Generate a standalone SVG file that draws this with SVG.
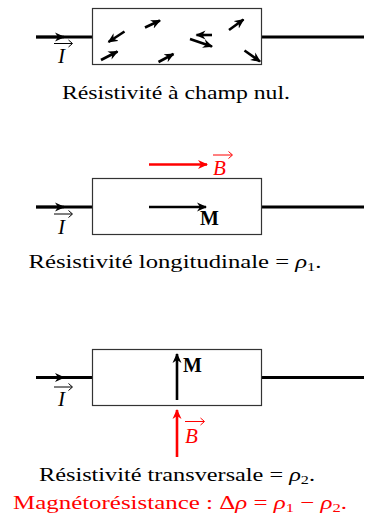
<svg xmlns="http://www.w3.org/2000/svg" width="366" height="519" viewBox="0 0 366 519">
<style>
.wire{stroke:#000;stroke-width:3;fill:none}
.box{fill:#fff;stroke:#333;stroke-width:1.2}
.arr{stroke:#000;stroke-width:2.6;fill:none;marker-end:url(#ah)}
.rarr{stroke:#f00;stroke-width:2.6;fill:none;marker-end:url(#rh)}
.vec{stroke-width:1;fill:none}
.t{font-family:'Liberation Serif','DejaVu Serif',serif;font-size:19.5px;fill:#000}
.lab{font-family:'Liberation Serif','DejaVu Serif',serif;font-size:21px;font-style:italic}
.m{font-family:'Liberation Serif','DejaVu Serif',serif;font-size:20px;font-weight:bold}
.red{fill:#f00}
</style>
<defs>
<marker id="ah" markerUnits="userSpaceOnUse" markerWidth="12" markerHeight="10" refX="9" refY="5" orient="auto" viewBox="0 0 12 10">
<path d="M0,0.5 L10,5 L0,9.5 L3,5 Z" fill="#000"/>
</marker>
<marker id="rh" markerUnits="userSpaceOnUse" markerWidth="12" markerHeight="10" refX="9" refY="5" orient="auto" viewBox="0 0 12 10">
<path d="M0,0.5 L10,5 L0,9.5 L3,5 Z" fill="#f00"/>
</marker>
</defs>

<g id="panel1">
<line class="wire" x1="36" y1="37" x2="92" y2="37"/>
<line class="wire" x1="262" y1="37" x2="364" y2="37"/>
<line class="arr" x1="36" y1="37" x2="64" y2="37"/>
<rect class="box" x="92.5" y="8.5" width="169" height="56"/>
<line class="arr" x1="124.5" y1="31.5" x2="108.5" y2="42"/>
<line class="arr" x1="145" y1="27.5" x2="160" y2="20.5"/>
<line class="arr" x1="101" y1="60" x2="117.5" y2="51.5"/>
<line class="arr" x1="158.5" y1="62" x2="173.5" y2="54"/>
<line class="arr" x1="212" y1="35" x2="196.5" y2="35"/>
<line class="arr" x1="190" y1="39" x2="212" y2="46.5"/>
<line class="arr" x1="229" y1="30" x2="243.5" y2="19.5"/>
<line class="arr" x1="244.5" y1="50.5" x2="260" y2="61.5"/>
<g id="I1">
<path class="vec" stroke="#000" d="M54,43.5 H72 M68.5,40 L72.5,43.5 L68.5,47"/>
<text class="lab" x="58" y="63">I</text>
</g>
<text class="t" x="176" y="99" text-anchor="middle" textLength="228" lengthAdjust="spacingAndGlyphs">Résistivité à champ nul.</text>
</g>

<g id="panel2">
<line class="wire" x1="36" y1="207" x2="92" y2="207"/>
<line class="wire" x1="262" y1="207" x2="364" y2="207"/>
<line class="arr" x1="36" y1="207" x2="64" y2="207"/>
<rect class="box" x="92.5" y="178.5" width="169" height="56"/>
<line class="arr" x1="149" y1="207" x2="206" y2="207"/>
<text class="m" x="200" y="225">M</text>
<line class="rarr" x1="149" y1="164.5" x2="207" y2="164.5"/>
<g id="B2">
<path class="vec" stroke="#f00" d="M213,155 H232 M228.5,151.5 L232.5,155 L228.5,158.5"/>
<text class="lab red" x="213" y="175">B</text>
</g>
<g id="I2">
<path class="vec" stroke="#000" d="M54,214 H72 M68.5,210.5 L72.5,214 L68.5,217.5"/>
<text class="lab" x="58" y="234">I</text>
</g>
<text class="t" x="175" y="268" text-anchor="middle" textLength="293" lengthAdjust="spacingAndGlyphs">Résistivité longitudinale = <tspan font-style="italic">ρ</tspan><tspan font-size="13" dy="3">1</tspan><tspan dy="-3">.</tspan></text>
</g>

<g id="panel3">
<line class="wire" x1="36" y1="377.5" x2="92" y2="377.5"/>
<line class="wire" x1="262" y1="377.5" x2="364" y2="377.5"/>
<line class="arr" x1="36" y1="377.5" x2="64" y2="377.5"/>
<rect class="box" x="92.5" y="349.5" width="169" height="56"/>
<line class="arr" x1="177" y1="400" x2="177" y2="354"/>
<text class="m" x="183" y="372">M</text>
<line class="rarr" x1="177" y1="457" x2="177" y2="410"/>
<g id="B3">
<path class="vec" stroke="#f00" d="M185,421.5 H204 M200.5,418 L204.5,421.5 L200.5,425"/>
<text class="lab red" x="185" y="443">B</text>
</g>
<g id="I3">
<path class="vec" stroke="#000" d="M54,387 H72 M68.5,383.5 L72.5,387 L68.5,390.5"/>
<text class="lab" x="58" y="406">I</text>
</g>
<text class="t" x="177" y="481" text-anchor="middle" textLength="276" lengthAdjust="spacingAndGlyphs">Résistivité transversale = <tspan font-style="italic">ρ</tspan><tspan font-size="13" dy="3">2</tspan><tspan dy="-3">.</tspan></text>
<text class="t red" x="180" y="509" text-anchor="middle" textLength="334" lengthAdjust="spacingAndGlyphs">Magnétorésistance : Δ<tspan font-style="italic">ρ</tspan> = <tspan font-style="italic">ρ</tspan><tspan font-size="13" dy="3">1</tspan><tspan dy="-3"> − </tspan><tspan font-style="italic">ρ</tspan><tspan font-size="13" dy="3">2</tspan><tspan dy="-3">.</tspan></text>
</g>
</svg>
